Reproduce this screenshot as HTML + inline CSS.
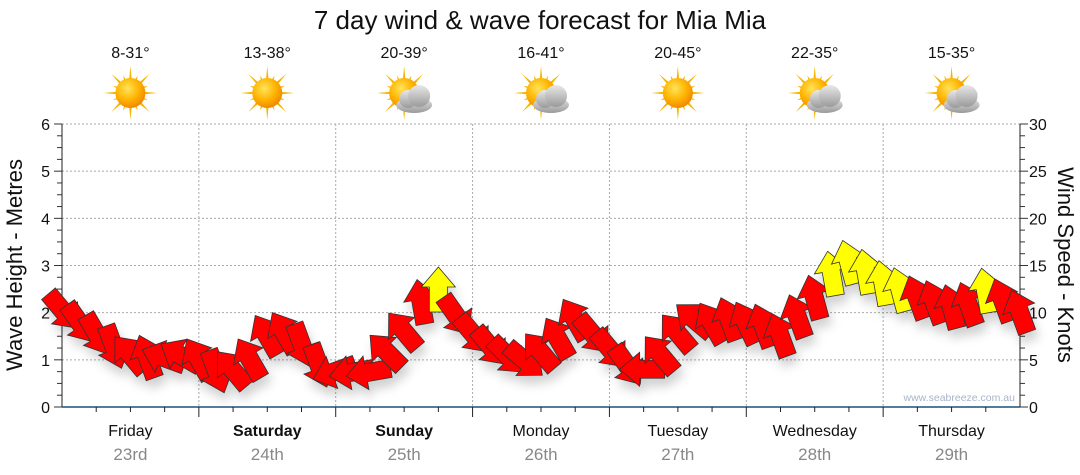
<!DOCTYPE html>
<html><head><meta charset="utf-8"><style>
body{margin:0;background:#fff;}
svg{display:block;font-family:"Liberation Sans",sans-serif;}
</style></head><body>
<svg id="chart" width="1080" height="475" viewBox="0 0 1080 475">
<defs>
<filter id="sh" x="-50%" y="-50%" width="200%" height="200%"><feDropShadow dx="3" dy="8" stdDeviation="5" flood-color="#000" flood-opacity="0.18"/></filter>
<radialGradient id="sunG" cx="40%" cy="35%" r="65%"><stop offset="0" stop-color="#ffe45a"/><stop offset="0.6" stop-color="#ffb300"/><stop offset="1" stop-color="#f08a00"/></radialGradient>
<linearGradient id="cloudG" x1="0" y1="0" x2="0" y2="1"><stop offset="0" stop-color="#e8e8e8"/><stop offset="1" stop-color="#9a9a9a"/></linearGradient>
</defs>
<text x="540" y="29" font-size="26" text-anchor="middle" fill="#111">7 day wind &amp; wave forecast for Mia Mia</text>
<g id="grid"></g>
<g id="axes"></g>
<g id="icons"></g>
<g id="arrows" filter="url(#sh)"></g>
<text transform="translate(22,265) rotate(-90)" font-size="22" text-anchor="middle" fill="#111">Wave Height - Metres</text>
<text transform="translate(1058,265) rotate(90)" font-size="22" text-anchor="middle" fill="#111">Wind Speed - Knots</text>
<text x="1015" y="401" font-size="10.5" text-anchor="end" fill="#a8b4c8">www.seabreeze.com.au</text>
</svg>
<script>
const dayNames=["Friday","Saturday","Sunday","Monday","Tuesday","Wednesday","Thursday"];
const dayDates=["23rd","24th","25th","26th","27th","28th","29th"];
const boldDays=[false,true,true,false,false,false,false];
const tempRanges=["8-31°","13-38°","20-39°","16-41°","20-45°","22-35°","15-35°"];
const cloudy=[false,false,true,true,false,true,true];
const waveTicks=[0,1,2,3,4,5,6];
const windTicks=[0,5,10,15,20,25,30];
// wind every 3 hours from Friday 00:00
const windHours=[0,3,6,9,12,15,18,21,24,27,30,33,36,39,42,45,48,51,54,57,60,63,66,69,72,75,78,81,84,87,90,93,96,99,102,105,108,111,114,117,120,123,126,129,132,135,138,141,144,147,150,153,156,159,162,165,168];
const windSpeed=[10.3,9.0,7.8,6.5,5.5,5.2,5.2,5.4,5.0,3.9,3.9,5.0,7.5,7.8,6.7,4.5,3.8,3.7,3.7,5.8,8.0,11.0,12.3,9.8,7.8,6.5,5.5,5.0,5.8,7.2,9.2,7.8,6.2,4.5,4.0,5.5,7.8,9.2,8.8,9.2,8.8,8.5,7.5,9.5,11.5,14.0,15.2,14.2,13.0,12.3,11.5,11.0,10.5,10.8,12.2,11.2,10.0];
const windDir=[140,145,150,160,-40,-20,-70,-60,-30,160,-40,-30,-30,-30,160,160,-110,-100,-100,-45,-40,-10,0,145,140,140,135,130,-40,-30,-30,140,140,145,-90,-40,-40,-50,-30,-20,-25,-20,-20,-20,-15,-10,-15,-10,-10,-15,-20,-20,-15,-20,-10,-20,-20];
const NS="http://www.w3.org/2000/svg";
const X0=62,X1=1020,Y0=407,Y1=124;
const xH=h=>X0+(X1-X0)*h/168;
const yW=m=>Y0-(Y0-Y1)*m/6;
const yK=k=>Y0-(Y0-Y1)*k/30;
function mk(tag,attrs,parent){const e=document.createElementNS(NS,tag);for(const k in attrs)e.setAttribute(k,attrs[k]);parent.appendChild(e);return e;}
const grid=document.getElementById('grid'),axes=document.getElementById('axes'),icons=document.getElementById('icons'),arrows=document.getElementById('arrows');
waveTicks.forEach(m=>{if(m>0){const l=mk('line',{x1:X0,x2:X1,y1:yW(m),y2:yW(m),stroke:'#aaa','stroke-dasharray':'2,2'},grid);

}
const t=mk('text',{x:50,y:yW(m)+6,'font-size':16,'text-anchor':'end',fill:'#111'},axes);t.textContent=m;

});
for(let i=0;i<=24;i++){const y=Y0-(Y0-Y1)*i/24;mk('line',{x1:i%4==0?X0-8:X0-5,x2:X0,y1:y,y2:y,stroke:'#333'},axes);mk('line',{x1:X1,x2:i%4==0?X1+8:X1+5,y1:y,y2:y,stroke:'#333'},axes);}
windTicks.forEach(k=>{const t=mk('text',{x:1029,y:yK(k)+6,'font-size':16,fill:'#111'},axes);t.textContent=k;

});
mk('line',{x1:X0,x2:X0,y1:Y1,y2:Y0,stroke:'#222'},axes);
mk('line',{x1:X1,x2:X1,y1:Y1,y2:Y0,stroke:'#222'},axes);
mk('line',{x1:X0,x2:X1,y1:Y0,y2:Y0,stroke:'#1f4e79','stroke-width':1.5},axes);
for(let h=6;h<168;h+=6){mk('line',{x1:xH(h),x2:xH(h),y1:Y0,y2:Y0+(h%24==0?10:5),stroke:'#222'},axes);}
dayNames.forEach((d,i)=>{
 if(i>0){const l=mk('line',{x1:xH(i*24),x2:xH(i*24),y1:Y1,y2:Y0,stroke:'#aaa','stroke-dasharray':'2,2'},grid);
 
 }
 const cx=xH(i*24+12);
 const t=mk('text',{x:cx,y:436,'font-size':16,'text-anchor':'middle',fill:'#111','font-weight':boldDays[i]?'bold':'normal'},axes);t.textContent=d;
 
 
 const t2=mk('text',{x:cx,y:460,'font-size':17,'text-anchor':'middle',fill:'#888'},axes);t2.textContent=dayDates[i];
 
 
 const t3=mk('text',{x:cx,y:58,'font-size':16,'text-anchor':'middle',fill:'#111'},icons);t3.textContent=tempRanges[i];
 
 
 const g=mk('g',{transform:`translate(${cx},93)`},icons);
 
 
 for(let a=0;a<16;a++){const r=a%2?19:27;const ang=a*Math.PI/8;mk('polygon',{points:`${Math.cos(ang-0.12)*12},${Math.sin(ang-0.12)*12} ${Math.cos(ang)*r},${Math.sin(ang)*r} ${Math.cos(ang+0.12)*12},${Math.sin(ang+0.12)*12}`,fill:'#f5b400'},g);}
 mk('circle',{cx:0,cy:0,r:15,fill:'url(#sunG)'},g);
 if(cloudy[i]){const c=mk('g',{transform:'translate(10,6)'},g);
  mk('ellipse',{cx:0,cy:6,rx:18,ry:8,fill:'url(#cloudG)'},c);mk('circle',{cx:-6,cy:0,r:9,fill:'url(#cloudG)'},c);mk('circle',{cx:5,cy:-3,r:11,fill:'url(#cloudG)'},c);}
});
// arrow shape pointing up, centered
const shape="0,-24 17,-4 9,-4 9,21 -9,21 -9,-4 -17,-4";
windSpeed.forEach((k,i)=>{
 const col=k>=12?'#ffff00':'#ff0000';
 const p=mk('polygon',{points:shape,fill:col,stroke:'#333','stroke-width':0.8,transform:`translate(${xH(windHours[i])},${yK(k)}) rotate(${windDir[i]})`},arrows);
 
 
});
</script>
</body></html>
